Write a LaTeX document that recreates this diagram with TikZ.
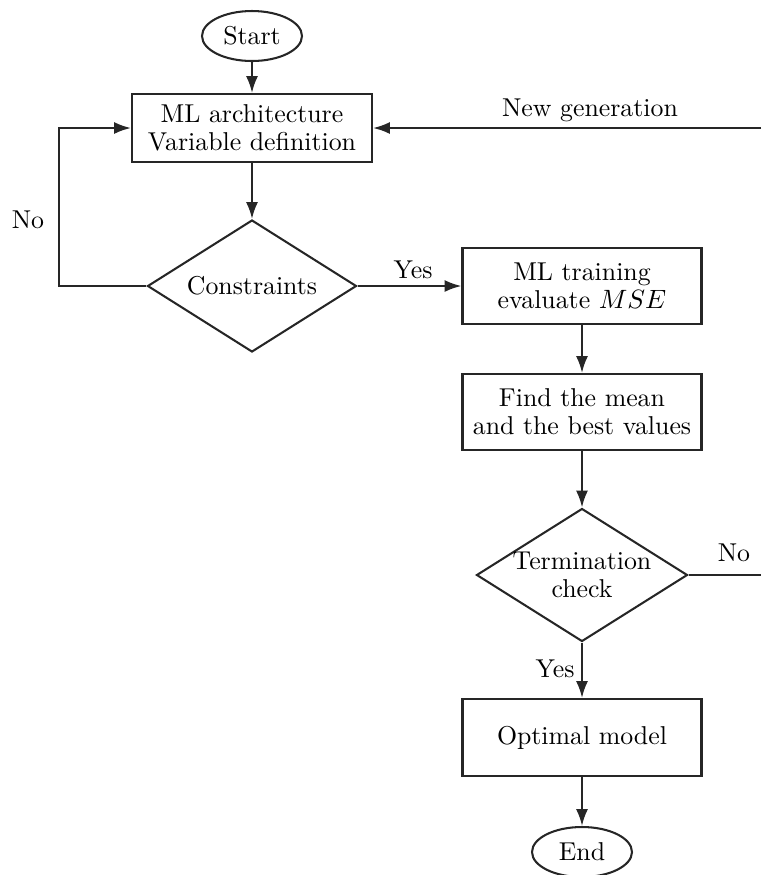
\documentclass[tikz,border=0pt]{standalone}
\usetikzlibrary{shapes.geometric,arrows.meta}
\newcommand\pxu{0.4133pt}
\begin{document}
\begin{tikzpicture}[x=0.4133pt,y=-0.4133pt,
  every node/.style={font=\fontsize{10.67pt}{11.6pt}\selectfont},
  base/.style={draw=black!85,line width=0.85pt,inner sep=0pt,align=center},
  boxnode/.style={base,rectangle,minimum width=239*\pxu,minimum height=76*\pxu},
  termnode/.style={base,ellipse,minimum width=100*\pxu,minimum height=50*\pxu},
  decnode/.style={base,diamond,shape aspect=1.59,inner sep=-1pt},
  arr/.style={draw=black!85,line width=0.9pt,-{Latex[length=7pt,width=5pt]}},
  ln/.style={draw=black!85,line width=0.9pt},
  lbl/.style={inner sep=0pt}]
\useasboundingbox (0,0) rectangle (761,875);
\node[termnode] (start) at (252,36) {Start};
\node[boxnode,minimum width=240*\pxu,minimum height=68*\pxu] (arch) at (252,128) {ML architecture\\Variable definition};
\node[decnode,minimum width=209*\pxu,minimum height=132*\pxu] (cons) at (252,286) {Constraints};
\node[boxnode] (train) at (582,286) {ML training\\evaluate $MSE$};
\node[boxnode] (mean) at (582,412) {Find the mean\\and the best values};
\node[decnode,minimum width=211*\pxu,minimum height=133*\pxu] (term) at (582,575) {Termination\\check};
\node[boxnode,minimum height=77*\pxu] (opt) at (582,737.5) {Optimal model};
\node[termnode] (end) at (582,852) {End};
\coordinate (ngR) at (761,128);
\coordinate (noR) at (761,575);
\coordinate (loopL) at (59,286);
\node[lbl] (ngl) at (590,110) {New generation};
\node[lbl] (nol) at (28,220) {No};
\node[lbl] (yesl) at (413,270) {Yes};
\node[lbl] (no2l) at (734,553) {No};
\node[lbl] (yes2l) at (555,669) {Yes};
\draw[arr] (start) -- (arch);
\draw[arr] (arch) -- (cons);
\draw[arr] (cons.west) -- (loopL) |- (arch.west);
\draw[arr] (ngR) -- (arch.east);
\draw[arr] (cons.east) -- (train.west);
\draw[arr] (train) -- (mean);
\draw[arr] (mean) -- (term);
\draw[arr] (term) -- (opt);
\draw[arr] (opt) -- (end);
\draw[ln] (term.east) -- (noR);
\end{tikzpicture}
\end{document}
